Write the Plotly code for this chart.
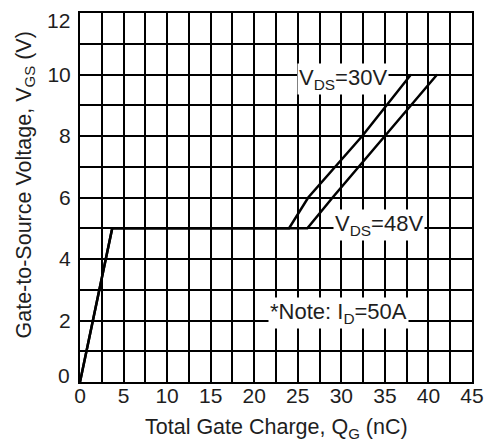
import plotly.graph_objects as go

# gate charge curves
q_30v = [0, 3.7, 24.0, 26.2, 32.4, 38.0]
vgs_30v = [0, 5, 5, 6, 8, 10]

q_48v = [0, 3.7, 26.1, 29.0, 35.0, 41.0]
vgs_48v = [0, 5, 5, 6, 8, 10]

x_grid = [i * 2.5 for i in range(19)]
x_labels = [str(int(v)) if v % 5 == 0 else "" for v in x_grid]
y_grid = list(range(13))
# 0 and 12 sit a little inside the frame in the original, drawn separately below
y_labels = [str(v) if v % 2 == 0 and 0 < v < 12 else "" for v in y_grid]
y_end_labels = [0, 12]

FONT = "Liberation Sans, Arial, sans-serif"
INK = "#1e1e1e"

fig = go.Figure()

fig.add_trace(go.Scatter(x=q_30v, y=vgs_30v, mode="lines",
                         line=dict(color="black", width=2.5), name="VDS=30V"))
fig.add_trace(go.Scatter(x=q_48v, y=vgs_48v, mode="lines",
                         line=dict(color="black", width=2.5), name="VDS=48V"))

# labels sit on white boxes that hide the grid behind them
notes = [
    (30.2, 9.85, "V<sub>DS</sub>=30V"),
    (34.3, 5.12, "V<sub>DS</sub>=48V"),
    (29.7, 2.25, "*Note: I<sub>D</sub>=50A"),
]
for x, y, txt in notes:
    fig.add_annotation(x=x, y=y, text=txt, showarrow=False,
                       bgcolor="white", borderpad=1,
                       font=dict(family=FONT, size=22, color=INK))

for v in y_end_labels:
    fig.add_annotation(xref="paper", x=0, y=v, text=str(v), showarrow=False,
                       xanchor="right", xshift=-8, yshift=7 if v == 0 else -7,
                       font=dict(family=FONT, size=21, color=INK))

# axis titles
fig.add_annotation(xref="paper", yref="paper", x=0.5, y=0, yanchor="middle",
                   yshift=-46, showarrow=False,
                   text="Total Gate Charge, Q<sub>G</sub> (nC)",
                   font=dict(family=FONT, size=21.5, color=INK))
fig.add_annotation(xref="paper", yref="paper", x=0, y=0.5, xanchor="center",
                   xshift=-55, yshift=12, textangle=-90, showarrow=False,
                   text="Gate-to-Source Voltage, V<sub>GS</sub> (V)",
                   font=dict(family=FONT, size=21.5, color=INK))

fig.update_xaxes(
    range=[0, 45], tickvals=x_grid, ticktext=x_labels, automargin=False,
    showgrid=True, gridcolor="black", gridwidth=1.6,
    zeroline=False, showline=True, linecolor="black", linewidth=2, mirror=True,
    ticks="", ticklabeloverflow="allow", ticklabelstandoff=-6,
    tickfont=dict(family=FONT, size=21, color=INK),
)
fig.update_yaxes(
    range=[0, 12], tickvals=y_grid, ticktext=y_labels, automargin=False,
    showgrid=True, gridcolor="black", gridwidth=1.6,
    zeroline=False, showline=True, linecolor="black", linewidth=2, mirror=True,
    ticks="", ticklabelstandoff=3,
    tickfont=dict(family=FONT, size=21, color=INK),
)

fig.update_layout(
    width=486, height=444,
    margin=dict(l=80, r=14, t=13, b=62),
    plot_bgcolor="white", paper_bgcolor="white",
    showlegend=False,
)

# drop the browser's default 8px body margin so the figure fills the window
fig.write_html("out.html", config={"displayModeBar": False},
               post_script="document.body.style.margin = '0';")
